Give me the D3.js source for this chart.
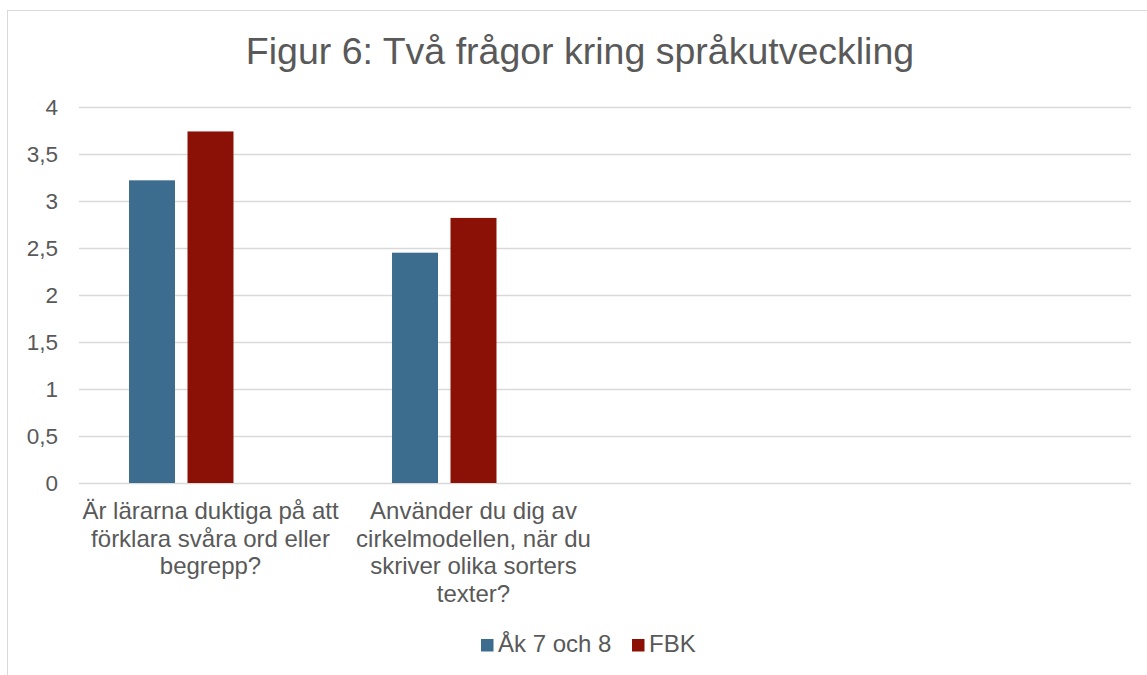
<!DOCTYPE html>
<html>
<head>
<meta charset="utf-8">
<script src="https://cdn.jsdelivr.net/npm/d3@7"></script>
<style>
  body { margin: 0; background: #fff; }
  svg text { font-family: "Liberation Sans", Arial, sans-serif; fill: #595959; }
</style>
</head>
<body>
<svg id="chart" width="1147" height="675"></svg>
<script>
var title = "Figur 6: Två frågor kring språkutveckling";
var categories = [
  ["Är lärarna duktiga på att", "förklara svåra ord eller", "begrepp?"],
  ["Använder du dig av", "cirkelmodellen, när du", "skriver olika sorters", "texter?"],
  [],
  []
];
var seriesNames = ["Åk 7 och 8", "FBK"];
var ak78 = [3.22, 2.45, null, null];
var fbk = [3.74, 2.82, null, null];
var yTicks = [0, 0.5, 1, 1.5, 2, 2.5, 3, 3.5, 4];
var colors = ["#3d6d8e", "#8b1006"];

var svg = d3.select("#chart");
var plotLeft = 79, plotRight = 1131, plotTop = 107, plotBottom = 483;

// chart frame (cropped on right and bottom)
svg.append("rect")
    .attr("x", 7.5).attr("y", 10.5)
    .attr("width", 1160).attr("height", 700)
    .attr("fill", "none")
    .attr("stroke", "#d9d9d9");

svg.append("text")
    .attr("x", 580).attr("y", 64)
    .attr("text-anchor", "middle")
    .attr("font-size", 37.5)
    .text(title);

var xScale = d3.scaleBand()
    .domain(d3.range(categories.length))
    .range([plotLeft, plotRight]);

// third slot is an empty series, which keeps the bars left of centre
var xInner = d3.scaleBand()
    .domain([0, 1, 2])
    .range([0, xScale.bandwidth()])
    .paddingInner(0.214)
    .paddingOuter(0.855);

var yScale = d3.scaleLinear()
    .domain([0, 4])
    .range([plotBottom, plotTop]);

var yAxis = d3.axisLeft(yScale)
    .tickValues(yTicks)
    .tickSize(-(plotRight - plotLeft))
    .tickFormat(function(d) { return String(d).replace(".", ","); });

var gy = svg.append("g")
    .attr("transform", `translate(${plotLeft},0)`)
    .call(yAxis);
gy.select(".domain").remove();
gy.selectAll(".tick line").attr("stroke", "#d9d9d9").attr("stroke-width", 1.3);
gy.selectAll(".tick text")
    .attr("x", -21)
    .attr("font-size", 22.5)
    .attr("font-family", "Liberation Sans, Arial, sans-serif")
    .attr("fill", "#595959");

var series = [ak78, fbk];
series.forEach(function(vals, s) {
  svg.append("g")
      .selectAll("rect")
      .data(vals.map(function(v, i) { return {i: i, v: v}; }).filter(function(d) { return d.v !== null; }))
      .enter()
      .append("rect")
      .attr("x", function(d) { return xScale(d.i) + xInner(s); })
      .attr("y", function(d) { return yScale(d.v); })
      .attr("width", xInner.bandwidth())
      .attr("height", function(d) { return yScale(0) - yScale(d.v); })
      .attr("fill", colors[s]);
});

// category labels
categories.forEach(function(lines, i) {
  var t = svg.append("text")
      .attr("text-anchor", "middle")
      .attr("font-size", 24);
  lines.forEach(function(line, k) {
    t.append("tspan")
        .attr("x", xScale(i) + xScale.bandwidth() / 2)
        .attr("y", 519 + k * 27.6)
        .text(line);
  });
});

// legend
var legendX = [481, 632];
seriesNames.forEach(function(name, s) {
  svg.append("rect")
      .attr("x", legendX[s]).attr("y", 639)
      .attr("width", 12.5).attr("height", 12.5)
      .attr("fill", colors[s]);
  svg.append("text")
      .attr("x", legendX[s] + 17).attr("y", 652)
      .attr("font-size", 24)
      .text(name);
});
</script>
</body>
</html>
